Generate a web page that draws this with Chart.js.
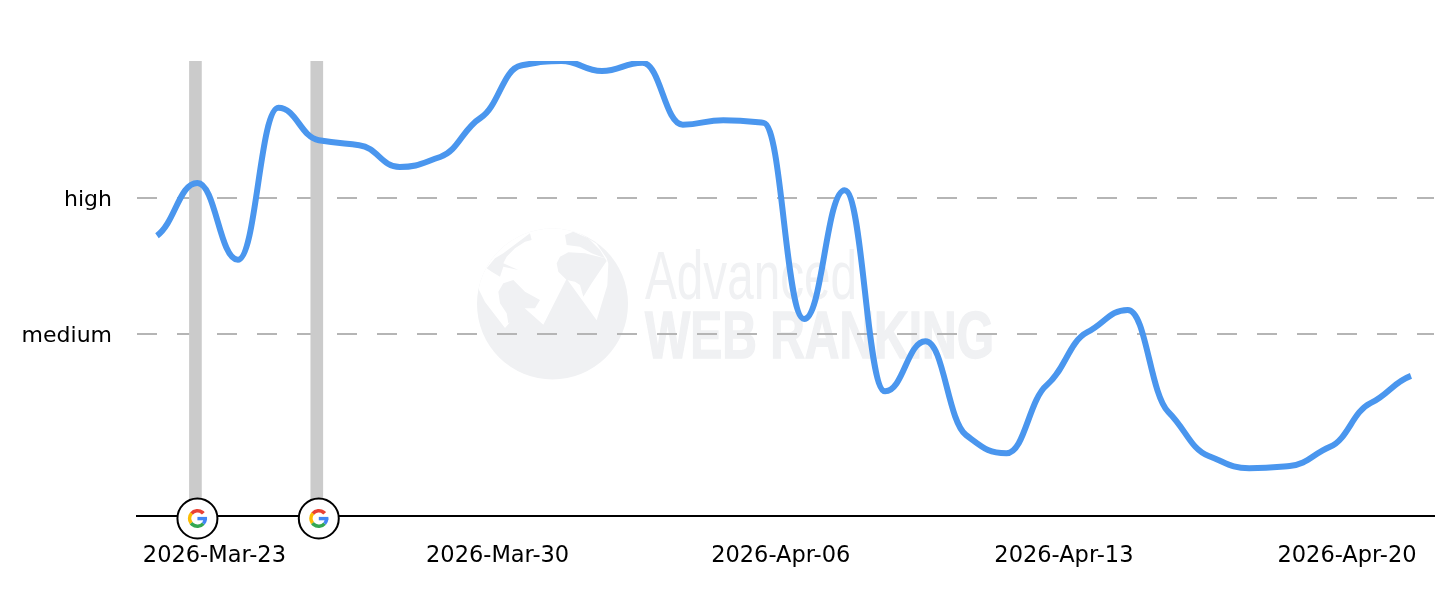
<!DOCTYPE html>
<html><head><meta charset="utf-8">
<style>html,body{margin:0;padding:0;background:#fff}canvas{display:block}</style>
<script src="https://cdn.jsdelivr.net/npm/chart.js@4"></script>
</head><body><canvas id="c" width="1454" height="602"></canvas>
<script>
const dates = ["2026-Mar-22","2026-Mar-23","2026-Mar-24","2026-Mar-25","2026-Mar-26","2026-Mar-27","2026-Mar-28","2026-Mar-29","2026-Mar-30","2026-Mar-31","2026-Apr-01","2026-Apr-02","2026-Apr-03","2026-Apr-04","2026-Apr-05","2026-Apr-06","2026-Apr-07","2026-Apr-08","2026-Apr-09","2026-Apr-10","2026-Apr-11","2026-Apr-12","2026-Apr-13","2026-Apr-14","2026-Apr-15","2026-Apr-16","2026-Apr-17","2026-Apr-18","2026-Apr-19","2026-Apr-20","2026-Apr-21","2026-Apr-22"];
const visibility = [61.6,73.2,56.3,89.7,82.6,81.5,76.7,78.9,87.5,99,100,97.8,99.6,86,87,86.4,43.3,71.6,27.4,38.4,17.8,13.8,28.8,40.4,45.3,22.9,13.2,10.5,11,15.2,24.8,30.8];
const xTickDates = ["2026-Mar-23","2026-Mar-30","2026-Apr-06","2026-Apr-13","2026-Apr-20"];
const yTickValues = [40,70];
const yTickLabels = ["medium","high"];
const updateDates = ["2026-Mar-23","2026-Mar-26"];
const updateHeights = [100,100];

const idx = d => dates.indexOf(d);
const FONT = '"DejaVu Sans"';

const watermark = {
  id:'watermark',
  beforeDraw(chart){
    const c = chart.ctx, col = '#f0f1f3';
    c.save();
    const p = pts => { c.beginPath(); pts.forEach((q,i)=> i? c.lineTo(q[0],q[1]) : c.moveTo(q[0],q[1])); c.closePath(); c.fill(); };
    const Z = a => a.map(q=>[470+q[0]/3, 222+q[1]/3]);
    const off = (a,dx,dy) => a.map(q=>[q[0]+dx,q[1]+dy]);
    c.beginPath(); c.arc(552.5,304,75.5,0,Math.PI*2); c.fillStyle=col; c.fill(); c.clip();
    c.fillStyle='#fff';
    p(Z([[20,190],[45,240],[105,318],[160,255],[220,308],[290,170],[380,295],[412,190],[415,125],[410,109],[380,65],[300,15],[200,-10],[60,0],[0,100]]));
    c.fillStyle=col;
    p(Z(off([[70,200],[85,175],[115,165],[150,200],[195,225],[180,250],[150,250],[110,290],[100,295],[95,265],[75,235]],15,9)));
    p(Z(off([[35,130],[60,100],[85,85],[165,25],[170,45],[150,50],[120,70],[95,95],[85,115],[130,135],[85,125],[75,155],[50,140]],15,9)));
    p(Z(off([[5,115],[15,95],[40,82],[90,85],[110,90],[150,100],[155,108],[110,175],[85,215],[75,180],[60,170],[35,165],[10,140]],255,9)));
    p(Z(off([[30,30],[55,20],[100,40],[135,75],[150,100],[110,85],[75,65],[35,60]],255,9)));
    c.restore();
    c.save();
    c.fillStyle=col; c.strokeStyle=col; c.textAlign='left'; c.textBaseline='alphabetic';
    c.font='68px "Liberation Sans"';
    c.fillText('Advanced',645,299,212);
    c.font='bold 66px "Liberation Sans"';
    c.lineWidth=1.5;
    c.fillText('WEB RANKING',645,358,349);
    c.strokeText('WEB RANKING',645,358,349);
    c.restore();
  }
};

// Rounder curve: lengthen the bezier handles and flatten them at each point
const HANDLE = 0.45, FLATTEN = 0.55;
const roundCurve = {
  id:'roundCurve',
  beforeDatasetsDraw(chart){
    chart.getSortedVisibleDatasetMetas().filter(m=>m.type==='line').forEach(m=>{
      m.dataset.updateControlPoints(chart.chartArea,'x');
      const pts = m.data, g = HANDLE*3*FLATTEN;
      pts.forEach((pt,i)=>{
        const prev = pts[i-1], next = pts[i+1];
        if(prev){ const dy=pt.cp1y-pt.y; pt.cp1x = pt.x-(pt.x-prev.x)*HANDLE; pt.cp1y = pt.y+dy*g; }
        if(next){ const dy=pt.cp2y-pt.y; pt.cp2x = pt.x+(next.x-pt.x)*HANDLE; pt.cp2y = pt.y+dy*g; }
      });
    });
  }
};

const barShift = {
  id:'barShift',
  beforeDatasetDraw(chart,a){ if(a.meta.type==='bar'){ chart.ctx.save(); chart.ctx.translate(-2,0);} },
  afterDatasetDraw(chart,a){ if(a.meta.type==='bar'){ chart.ctx.restore(); } }
};

const gMarkers = {
  id:'gMarkers',
  afterDraw(chart){
    const c = chart.ctx, sx = chart.scales.x, sy = chart.scales.y;
    updateDates.forEach(d=>{
      const x = sx.getPixelForValue(idx(d)), y = sy.getPixelForValue(0) + 2.5;
      c.save();
      c.beginPath(); c.arc(x,y,20,0,Math.PI*2); c.fillStyle='#fff'; c.fill();
      c.lineWidth=2; c.strokeStyle='#000'; c.stroke();
      const R=7.8, arc=(a,b,col)=>{c.beginPath();c.arc(x,y,R,a,b);c.lineWidth=3.6;c.strokeStyle=col;c.stroke();};
      arc(-2.45,-0.72,'#EA4335');
      arc(2.5,3.85,'#FBBC05');
      arc(0.72,2.5,'#34A853');
      arc(0,0.72,'#4285F4');
      c.fillStyle='#4285F4'; c.fillRect(x,y-1.6,R+1.8,3.4);
      c.restore();
    });
  }
};

new Chart(document.getElementById('c'),{
  data:{datasets:[
    {type:'line',label:'Visibility',order:1,
     data:visibility.map((v,i)=>({x:i,y:v})),
     borderColor:'#4a96ee',borderWidth:6,pointRadius:0,fill:false,
     cubicInterpolationMode:'monotone',borderCapStyle:'butt',clip:0},
    {type:'bar',label:'Google updates',order:2,
     data:updateDates.map((d,i)=>({x:idx(d),y:updateHeights[i]})),
     backgroundColor:'#cbcbcb',barThickness:12,grouped:false}
  ]},
  options:{
    responsive:false,animation:false,devicePixelRatio:1,
    layout:{padding:{top:61,right:20,left:0,bottom:0}},
    plugins:{legend:{display:false},tooltip:{enabled:false}},
    scales:{
      x:{type:'linear',min:-0.494,max:31.57,offset:false,
        afterBuildTicks(s){ s.ticks = xTickDates.map(d=>({value:idx(d)})); },
        afterFit(s){ s.height=86; },
        grid:{display:false,drawTicks:false,offset:false},
        border:{display:true,color:'#000',width:2},
        ticks:{autoSkip:false,maxRotation:0,minRotation:0,labelOffset:17,padding:27,color:'#000',
          font:{family:FONT,size:22.5},
          callback:v=>dates[v]}},
      y:{type:'linear',min:0,max:100,
        afterBuildTicks(s){ s.ticks = yTickValues.map(v=>({value:v})); },
        afterFit(s){ s.width=137; },
        grid:{color:'#b5b5b5',lineWidth:2,drawTicks:false,tickLength:0},
        border:{display:false,dash:[20,20]},
        ticks:{padding:25,labelOffset:2.5,color:'#000',font:{family:FONT,size:22},
          callback:v=>yTickLabels[yTickValues.indexOf(v)]}}
    }
  },
  plugins:[watermark,roundCurve,barShift,gMarkers]
});
</script></body></html>
